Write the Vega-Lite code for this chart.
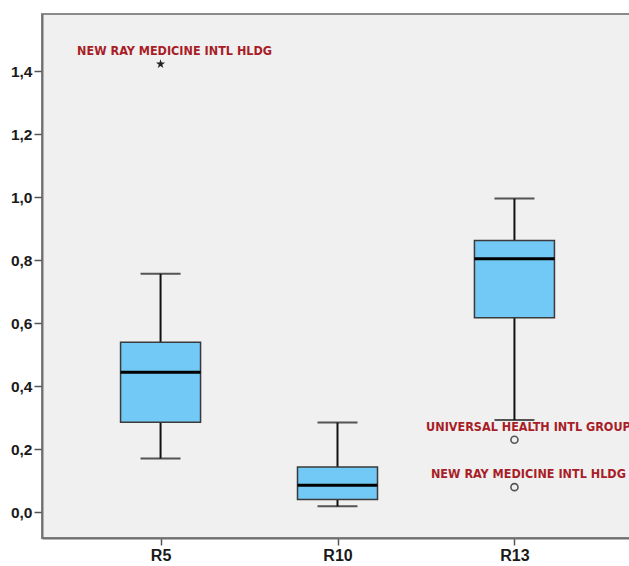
{
  "$schema": "https://vega.github.io/schema/vega-lite/v6.json",
  "autosize": "none",
  "padding": {"left": 42, "top": 14, "right": 0, "bottom": 28},
  "width": 591,
  "height": 524,
  "background": "#ffffff",
  "config": {
    "view": {"fill": "#f0f0f0", "stroke": "#8a8a8a", "strokeWidth": 2},
    "axis": {
      "labelFont": "Liberation Sans",
      "labelFontWeight": "bold",
      "labelFontSize": 15.5,
      "labelColor": "#1a1a1a",
      "domainColor": "#707070",
      "domainWidth": 2,
      "tickColor": "#555555",
      "tickWidth": 1.5,
      "tickSize": 7,
      "grid": false,
      "title": null
    }
  },
  "datasets": {
    "boxes": [
      {"group": "R5", "lower": 0.170, "q1": 0.285, "median": 0.4435, "q3": 0.539, "upper": 0.756},
      {"group": "R10", "lower": 0.018, "q1": 0.040, "median": 0.085, "q3": 0.143, "upper": 0.284},
      {"group": "R13", "lower": 0.292, "q1": 0.617, "median": 0.804, "q3": 0.862, "upper": 0.995}
    ],
    "outliers": [
      {"group": "R5", "value": 1.422, "kind": "extreme", "label": "NEW RAY MEDICINE INTL HLDG"},
      {"group": "R13", "value": 0.2295, "kind": "outlier", "label": "UNIVERSAL HEALTH INTL GROUP"},
      {"group": "R13", "value": 0.079, "kind": "outlier", "label": "NEW RAY MEDICINE INTL HLDG"}
    ]
  },
  "encoding": {
    "x": {
      "field": "group", "type": "nominal", "sort": ["R5", "R10", "R13"],
      "scale": {"type": "point", "padding": 0.67},
      "axis": {"labelAngle": 0, "labelPadding": 2, "labelFontSize": 16}
    }
  },
  "layer": [
    {
      "data": {"name": "boxes"},
      "mark": {"type": "rule", "color": "#111111", "strokeWidth": 2},
      "encoding": {
        "y": {"field": "lower", "type": "quantitative",
          "scale": {"domain": [-0.0825, 1.581], "nice": false, "zero": false},
          "axis": {"values": [0, 0.2, 0.4, 0.6, 0.8, 1.0, 1.2, 1.4], "labelExpr": "replace(format(datum.value, '.1f'), '.', ',')", "labelPadding": 2, "tickSize": 8}},
        "y2": {"field": "upper"}
      }
    },
    {
      "data": {"name": "boxes"},
      "mark": {"type": "tick", "color": "#111111", "size": 40, "thickness": 2},
      "encoding": {"y": {"field": "lower", "type": "quantitative"}}
    },
    {
      "data": {"name": "boxes"},
      "mark": {"type": "tick", "color": "#111111", "size": 40, "thickness": 2},
      "encoding": {"y": {"field": "upper", "type": "quantitative"}}
    },
    {
      "data": {"name": "boxes"},
      "mark": {"type": "bar", "size": 80, "fill": "#72c9f5", "stroke": "#3a3a3a", "strokeWidth": 1.5},
      "encoding": {
        "y": {"field": "q1", "type": "quantitative"},
        "y2": {"field": "q3"}
      }
    },
    {
      "data": {"name": "boxes"},
      "mark": {"type": "tick", "color": "#000000", "size": 80, "thickness": 3, "opacity": 1},
      "encoding": {"y": {"field": "median", "type": "quantitative"}}
    },
    {
      "data": {"name": "outliers"},
      "transform": [{"filter": "datum.kind === 'outlier'"}],
      "mark": {"type": "point", "shape": "circle", "size": 50, "stroke": "#555555", "strokeWidth": 1.6, "filled": false, "opacity": 1},
      "encoding": {"y": {"field": "value", "type": "quantitative"}}
    },
    {
      "data": {"name": "outliers"},
      "transform": [{"filter": "datum.kind === 'extreme'"}],
      "mark": {"type": "point", "shape": "M0,-1L0.2245,-0.309L0.9511,-0.309L0.3633,0.118L0.5878,0.809L0,0.382L-0.5878,0.809L-0.3633,0.118L-0.9511,-0.309L-0.2245,-0.309Z", "size": 90, "fill": "#222222", "filled": true, "strokeWidth": 0, "opacity": 1},
      "encoding": {"y": {"field": "value", "type": "quantitative"}}
    },
    {
      "data": {"name": "outliers"},
      "mark": {"type": "text", "font": "DejaVu Sans Condensed, Liberation Sans", "fontWeight": "bold", "fontSize": 12.5, "color": "#a81d27", "align": "center", "baseline": "alphabetic", "dx": 14, "dy": -9},
      "encoding": {
        "y": {"field": "value", "type": "quantitative"},
        "text": {"field": "label"}
      }
    }
  ]
}
